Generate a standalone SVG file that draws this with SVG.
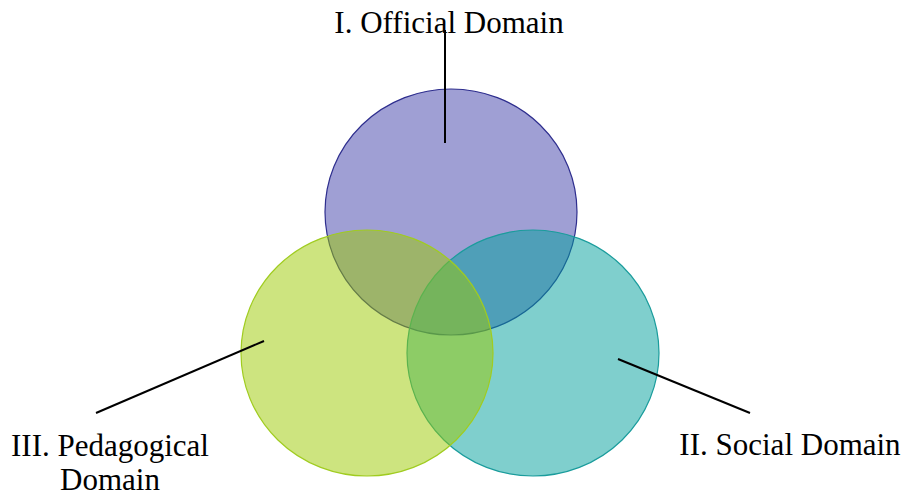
<svg xmlns="http://www.w3.org/2000/svg" width="904" height="493" viewBox="0 0 904 493">
<style>
.lbl{font-family:"Liberation Serif","Times New Roman",serif;font-size:31px;fill:#000;text-anchor:middle}
.lead{stroke:#000;stroke-width:2;fill:none}
.c{stroke-width:1.2}
</style>
<rect width="904" height="493" fill="#fff"/>
<g id="official">
<ellipse class="c" cx="451" cy="212" rx="126" ry="123" fill="rgb(80,80,176)" fill-opacity="0.55" stroke="#2e2e8e"/>
</g>
<g id="social">
<ellipse class="c" cx="533" cy="353" rx="126" ry="123" fill="rgb(0,160,155)" fill-opacity="0.5" stroke="#1a9c9c"/>
</g>
<g id="pedagogical">
<ellipse class="c" cx="367" cy="353" rx="126" ry="123" fill="rgb(155,201,0)" fill-opacity="0.5" stroke="#a0cc20"/>
</g>
<g id="connectors">
<line class="lead" x1="445" y1="30" x2="445" y2="143"/>
<line class="lead" x1="96" y1="413" x2="264" y2="341"/>
<line class="lead" x1="618" y1="359" x2="750" y2="413"/>
</g>
<g id="labels">
<text class="lbl" x="449" y="33">I. Official Domain</text>
<text class="lbl" x="110" y="456">III. Pedagogical</text>
<text class="lbl" x="110" y="490">Domain</text>
<text class="lbl" x="790" y="455">II. Social Domain</text>
</g>
</svg>
